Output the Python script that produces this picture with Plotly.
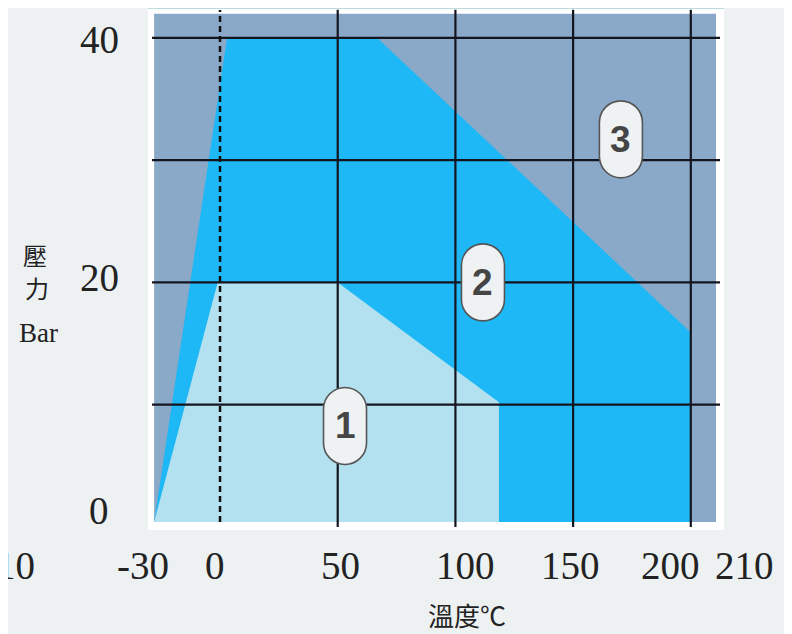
import plotly.graph_objects as go

# ---- data ----
temp_grid = [50, 100, 150, 200]           # vertical grid (°C)
press_grid = [10, 20, 30, 40]             # horizontal grid (bar)
zero_line = 0                              # dashed line at 0 °C

# zone 2 (bright blue) polygon
zone2_t = [-28, 3, 66.7, 200, 200, -28]
zone2_p = [0.4, 40, 40, 15.9, 0.4, 0.4]
# zone 1 (light blue) polygon
zone1_t = [-28, -1, 50, 118.5, 118.5, -28]
zone1_p = [0.4, 20, 20, 10.2, 0.4, 0.4]
# zone 3 background extent
zone3_t = [-28, 210.7]
zone3_p = [0.4, 41.96]

# zone badges
badge_labels = ["1", "2", "3"]
badge_t = [53.1, 111.7, 170.3]
badge_p = [8.26, 20.0, 31.7]

x_tick_labels = ["10", "-30", "0", "50", "100", "150", "200", "210"]
y_tick_labels = ["40", "20", "0"]

# ---- layout helpers (positions of loosely placed labels, axis units) ----
X0, X1 = -30.6, 214.1
Y0, Y1 = -0.25, 42.44
x_label_pos = [-86.7, -32.7, -2.1, 51.0, 104.1, 148.7, 191.2, 222.6]
x_label_y = -3.19
y_label_pos = [39.9, 20.36, 1.31]
y_label_x = -51.4


def fx(v):
    return (v - X0) / (X1 - X0)


def fy(v):
    return (v - Y0) / (Y1 - Y0)


C_DARK = "#8AA9C9"
C_BRIGHT = "#1DB8F5"
C_LIGHT = "#B3E1EF"
GRID = "#15151f"

fig = go.Figure()

fig.add_trace(go.Scatter(x=[zone3_t[0], zone3_t[1], zone3_t[1], zone3_t[0], zone3_t[0]],
                         y=[zone3_p[0], zone3_p[0], zone3_p[1], zone3_p[1], zone3_p[0]],
                         fill="toself", fillcolor=C_DARK, mode="none",
                         hoverinfo="skip", showlegend=False))
fig.add_trace(go.Scatter(x=zone2_t, y=zone2_p, fill="toself", fillcolor=C_BRIGHT,
                         mode="none", hoverinfo="skip", showlegend=False))
fig.add_trace(go.Scatter(x=zone1_t, y=zone1_p, fill="toself", fillcolor=C_LIGHT,
                         mode="none", hoverinfo="skip", showlegend=False))

shapes = []
for p in press_grid:
    shapes.append(dict(type="line", xref="x", yref="y", x0=-28.9, x1=212.4, y0=p, y1=p,
                       line=dict(color=GRID, width=2.2), layer="above"))
for t in temp_grid:
    shapes.append(dict(type="line", xref="x", yref="y", x0=t, x1=t, y0=0, y1=42.3,
                       line=dict(color=GRID, width=2.2), layer="above"))
shapes.append(dict(type="line", xref="x", yref="y", x0=zero_line, x1=zero_line, y0=0.4, y1=42.27,
                   line=dict(color="#111111", width=2.5, dash="6px,4px"), layer="above"))
# thin top edge line of the frame
shapes.append(dict(type="line", xref="paper", yref="paper", x0=0, x1=1, y0=1, y1=1,
                   line=dict(color="#A8CFD2", width=1.5), layer="above"))

# pill badges
r, s, k = 21.5, 17.0, 0.5523
kr = k * r
pill = (f"M {-r},{-s} L {-r},{s} "
        f"C {-r},{s+kr} {-kr},{s+r} 0,{s+r} "
        f"C {kr},{s+r} {r},{s+kr} {r},{s} "
        f"L {r},{-s} "
        f"C {r},{-s-kr} {kr},{-s-r} 0,{-s-r} "
        f"C {-kr},{-s-r} {-r},{-s-kr} {-r},{-s} Z")
for bt, bp in zip(badge_t, badge_p):
    shapes.append(dict(type="path", xref="x", yref="y", xsizemode="pixel", ysizemode="pixel",
                       xanchor=bt, yanchor=bp, path=pill, fillcolor="#EEF2F3",
                       line=dict(color="#555555", width=1.6), layer="above"))

annotations = []
for lab, bt, bp in zip(badge_labels, badge_t, badge_p):
    annotations.append(dict(x=bt, y=bp, xref="x", yref="y", text=f"<b>{lab}</b>", showarrow=False,
                            font=dict(family="Liberation Sans Narrow, Liberation Sans, Arial",
                                      size=37, color="#454545"),
                            xanchor="center", yanchor="middle"))

NUMFONT = dict(family="Liberation Serif, Times New Roman, serif", size=39, color="#222222")
for lab, xp in zip(x_tick_labels, x_label_pos):
    annotations.append(dict(x=fx(xp), y=fy(x_label_y), xref="paper", yref="paper", text=lab,
                            showarrow=False, font=NUMFONT, xanchor="center", yanchor="middle"))
for lab, yp in zip(y_tick_labels, y_label_pos):
    annotations.append(dict(x=fx(y_label_x), y=fy(yp), xref="paper", yref="paper", text=lab,
                            showarrow=False, font=NUMFONT, xanchor="center", yanchor="middle"))

CJK = "Noto Sans CJK TC, Noto Sans CJK SC, sans-serif"
annotations.append(dict(x=fx(104.9), y=fy(-7.2), xref="paper", yref="paper", text="溫度℃",
                        showarrow=False, font=dict(family=CJK, size=26, color="#222222"),
                        xanchor="center", yanchor="middle"))
annotations.append(dict(x=fx(-78.6), y=fy(22.3), xref="paper", yref="paper", text="壓",
                        showarrow=False, font=dict(family=CJK, size=24, color="#222222"),
                        xanchor="center", yanchor="middle"))
annotations.append(dict(x=fx(-77.8), y=fy(19.6), xref="paper", yref="paper", text="力",
                        showarrow=False, font=dict(family=CJK, size=24, color="#222222"),
                        xanchor="center", yanchor="middle"))
annotations.append(dict(x=fx(-77.3), y=fy(15.87), xref="paper", yref="paper", text="Bar",
                        showarrow=False,
                        font=dict(family="Liberation Serif, Times New Roman, serif", size=27,
                                  color="#222222"),
                        xanchor="center", yanchor="middle"))

fig.update_layout(
    width=784, height=626,
    margin=dict(l=140, r=68, t=0, b=104),
    paper_bgcolor="#EDF1F2",
    plot_bgcolor="#FFFFFF",
    xaxis=dict(range=[X0, X1], showgrid=False, zeroline=False, showticklabels=False,
               ticks="", fixedrange=True),
    yaxis=dict(range=[Y0, Y1], showgrid=False, zeroline=False, showticklabels=False,
               ticks="", fixedrange=True),
    shapes=shapes,
    annotations=annotations,
    showlegend=False,
)

fig.write_html("out.html", config={"displayModeBar": False})
